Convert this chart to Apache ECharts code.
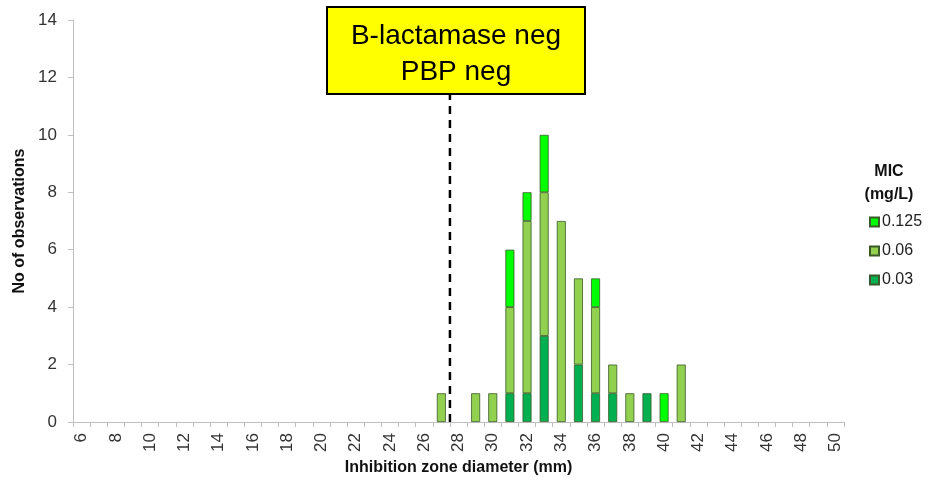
<!DOCTYPE html>
<html><head><meta charset="utf-8">
<script src="https://cdn.jsdelivr.net/npm/echarts@6/dist/echarts.min.js"></script>
<style>html,body{margin:0;padding:0;background:#fff}#c{width:929px;height:480px}</style>
</head><body><div id="c"></div>
<script>
const categories = [];
for (let d = 6; d <= 50; d++) categories.push(String(d));
// counts per inhibition zone diameter (mm)
const mic003 = {31:1, 32:1, 33:3, 35:2, 36:1, 37:1, 39:1};
const mic006 = {27:1, 29:1, 30:1, 31:3, 32:6, 33:5, 34:7, 35:3, 36:3, 37:1, 38:1, 41:2};
const mic0125 = {31:2, 32:1, 33:2, 36:1, 40:1};
const seriesNames = ['0.03', '0.06', '0.125'];
const seriesColors = ['#00B050', '#92D050', '#00FF00'];
const breakpoint = 27.5;
const breakpointTop = 11.42;
const yTicks = [0, 14, 2];

function toArr(obj){ return categories.map(c => obj[c] !== undefined ? obj[c] : null); }
const dataSets = [mic003, mic006, mic0125].map(toArr);

const font = 'Arial, "Liberation Sans", sans-serif';
const chart = echarts.init(document.getElementById('c'), null, {renderer:'canvas'});
const barSeries = dataSets.map((d,i)=>({
  name: seriesNames[i], type:'bar', stack:'s', data:d, barWidth:9,
  xAxisIndex:0, yAxisIndex:0,
  itemStyle:{color:seriesColors[i], borderColor:'#3a5a2a', borderWidth:0.8},
  emphasis:{disabled:true}
}));
chart.setOption({
  animation:false,
  grid:{left:73, right:85, top:20, bottom:58, containLabel:false, outerBoundsMode:'none'},
  legend:{
    data:['0.125','0.06','0.03'], orient:'vertical', left:864, top:209,
    icon:'rect', itemWidth:9, itemHeight:9, itemGap:13,
    textStyle:{fontFamily:font, fontSize:16, color:'#222', padding:[0,0,0,-2]},
    selectedMode:false
  },
  xAxis:[{
    type:'category', data:categories, boundaryGap:true,
    name:'Inhibition zone diameter (mm)', nameLocation:'middle', nameGap:37,
    nameTextStyle:{fontFamily:font, fontSize:16, fontWeight:'bold', color:'#111'},
    axisLine:{lineStyle:{color:'#bfbfbf', width:1}},
    axisTick:{show:true, interval:0, alignWithLabel:false, length:5, lineStyle:{color:'#bfbfbf'}},
    axisLabel:{interval:1, rotate:90, fontFamily:font, fontSize:17, color:'#333', margin:11},
    splitLine:{show:false}
  },{
    type:'value', min:5.5, max:50.5, show:false
  }],
  yAxis:{
    type:'value', min:yTicks[0], max:yTicks[1], interval:yTicks[2],
    name:'No of observations', nameLocation:'middle', nameGap:39, nameRotate:90,
    nameTextStyle:{fontFamily:font, fontSize:16, fontWeight:'bold', color:'#111'},
    axisLine:{show:true, lineStyle:{color:'#bfbfbf'}},
    axisTick:{show:true, length:5, lineStyle:{color:'#bfbfbf'}},
    axisLabel:{fontFamily:font, fontSize:17, color:'#333', margin:16},
    splitLine:{show:false}
  },
  series:[...barSeries, {
    type:'line', xAxisIndex:1, yAxisIndex:0, data:[[breakpoint,0],[breakpoint,breakpointTop]],
    symbol:'none', lineStyle:{color:'#000', width:2.5, type:[8,6]}, silent:true, z:1
  }],
  graphic:[
    {type:'rect', x:327, y:7, shape:{width:258, height:87}, style:{fill:'#FFFF00', stroke:'#000', lineWidth:2}, z:10},
    {type:'text', x:456, y:18, style:{text:'B-lactamase neg\nPBP neg', fill:'#000', font:'28px Arial, "Liberation Sans", sans-serif', align:'center', verticalAlign:'top', lineHeight:36}, z:11},
    {type:'text', x:889, y:160, style:{text:'MIC\n(mg/L)', fill:'#111', font:'bold 16px Arial, "Liberation Sans", sans-serif', align:'center', verticalAlign:'top', lineHeight:23}}
  ]
});
</script></body></html>
